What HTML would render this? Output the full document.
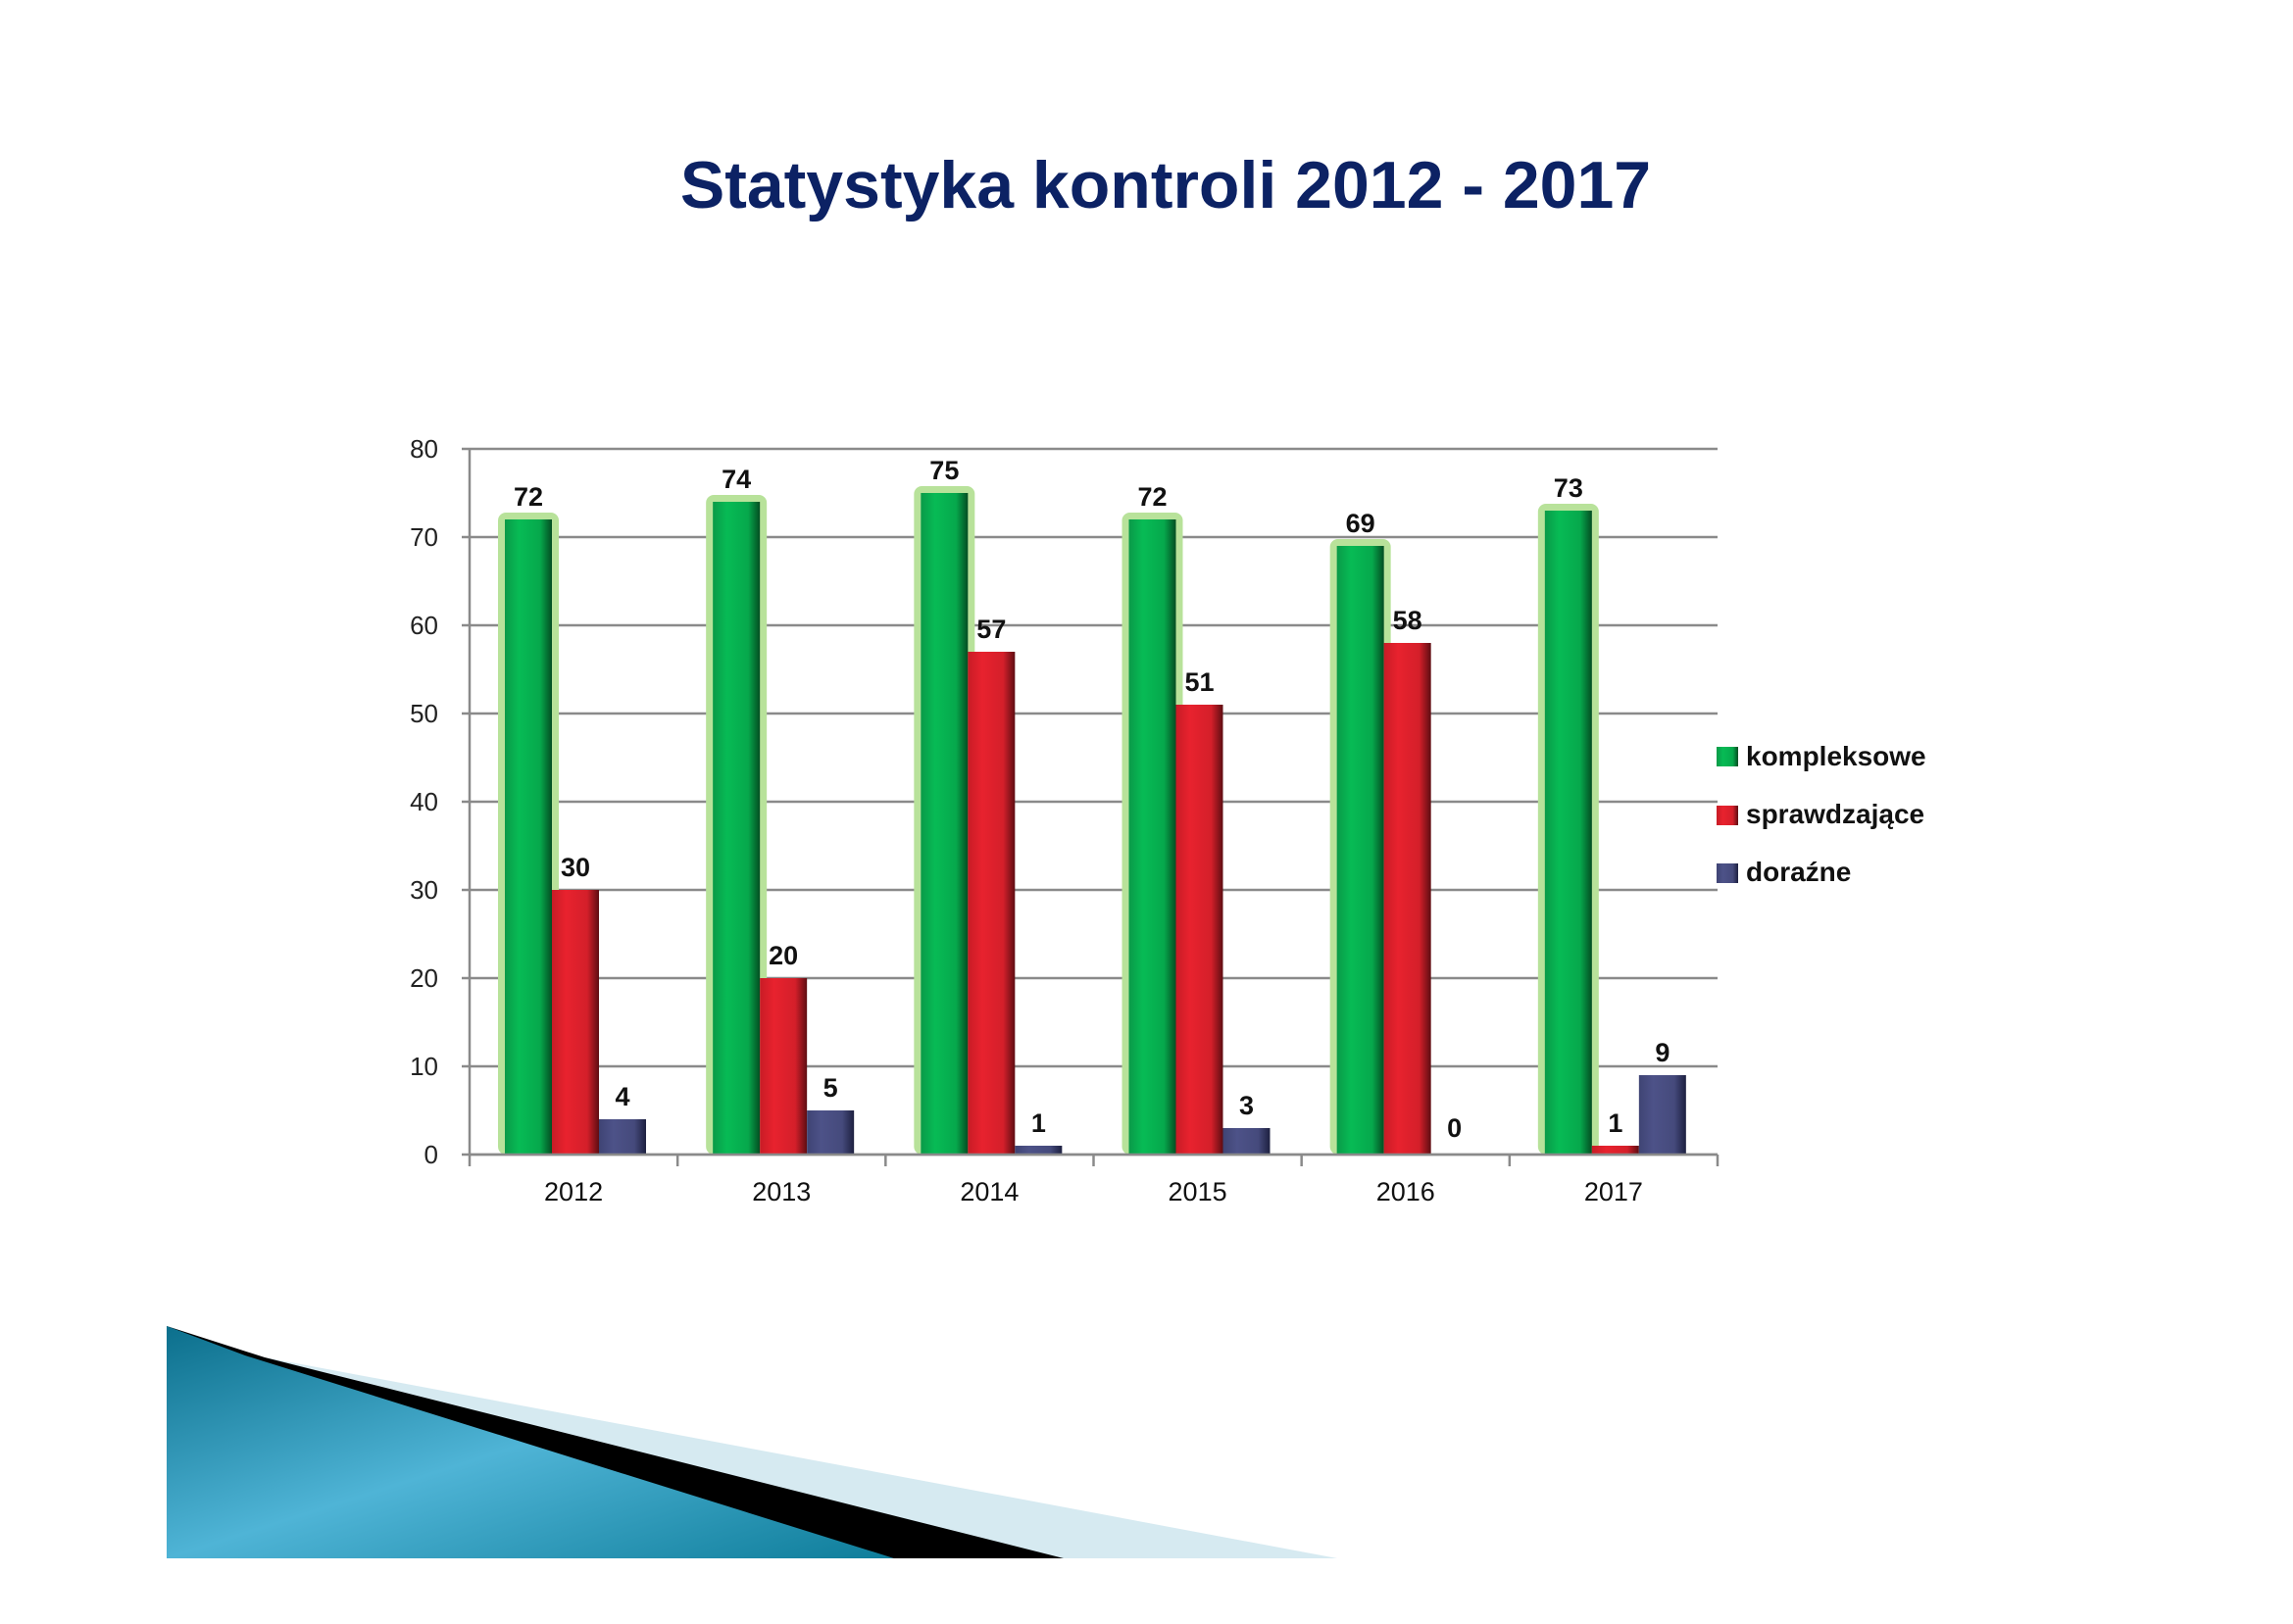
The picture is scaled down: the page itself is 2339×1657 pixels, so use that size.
<!DOCTYPE html>
<html><head><meta charset="utf-8"><style>
body{margin:0;background:#fff;}
svg text{font-family:"Liberation Sans","DejaVu Sans",sans-serif;}
</style></head><body>
<svg id="chart" width="2339" height="1652" viewBox="0 0 2339 1652" xmlns="http://www.w3.org/2000/svg">
<defs>
<linearGradient id="gG" x1="0" x2="1"><stop offset="0" stop-color="#0a9a48"/><stop offset="0.3" stop-color="#07bb55"/><stop offset="0.75" stop-color="#06a84c"/><stop offset="1" stop-color="#034d22"/></linearGradient>
<linearGradient id="gR" x1="0" x2="1"><stop offset="0" stop-color="#c81c26"/><stop offset="0.3" stop-color="#e8222e"/><stop offset="0.75" stop-color="#d41f2a"/><stop offset="1" stop-color="#5e0d12"/></linearGradient>
<linearGradient id="gB" x1="0" x2="1"><stop offset="0" stop-color="#3f4474"/><stop offset="0.3" stop-color="#4d5288"/><stop offset="0.75" stop-color="#454a7c"/><stop offset="1" stop-color="#1d2040"/></linearGradient>
<linearGradient id="deco" x1="0" y1="0" x2="1" y2="1"><stop offset="0" stop-color="#0b6f8c"/><stop offset="0.5" stop-color="#4fb4d6"/><stop offset="1" stop-color="#0e7d9a"/></linearGradient>
</defs>
<text x="1189" y="212" text-anchor="middle" font-size="68" font-weight="bold" fill="#0c2264">Statystyka kontroli 2012 - 2017</text>
<g id="grid"></g>
<g id="bars"></g>
<g id="axes"></g>
<g>
<rect x="1751" y="762" width="22" height="20" fill="url(#gG)"/>
<text x="1781" y="781" font-size="28" font-weight="bold" fill="#111">kompleksowe</text>
<rect x="1751" y="822" width="22" height="20" fill="url(#gR)"/>
<text x="1781" y="840" font-size="28" font-weight="bold" fill="#111">sprawdzające</text>
<rect x="1751" y="881" width="22" height="20" fill="url(#gB)"/>
<text x="1781" y="899" font-size="28" font-weight="bold" fill="#111">doraźne</text>
</g>
<g>
<polygon points="170,1353 270,1385 1364,1590 170,1590" fill="#d6eaf1"/>
<polygon points="170,1353 270,1385 1085,1590 170,1590" fill="#000"/>
<polygon points="170,1353 250,1383 912,1590 170,1590" fill="url(#deco)"/>
</g>
</svg>
<script>
const categories=["2012","2013","2014","2015","2016","2017"];
const kompleksowe=[72,74,75,72,69,73];
const sprawdzajace=[30,20,57,51,58,1];
const dorazne=[4,5,1,3,0,9];
const yTicks=[0,10,20,30,40,50,60,70,80];
const NS="http://www.w3.org/2000/svg";
const x0=479,x1=1752,y0=1178,yTop=458,yMax=80;
const cw=(x1-x0)/categories.length;
function y(v){return y0-(v/yMax)*(y0-yTop);}
function mk(t,a,p){const e=document.createElementNS(NS,t);for(const k in a)e.setAttribute(k,a[k]);p.appendChild(e);return e;}
const grid=document.getElementById('grid'),bars=document.getElementById('bars'),axes=document.getElementById('axes');
yTicks.forEach(v=>{
 const l=mk('line',{x1:x0-8,x2:x1,y1:y(v),y2:y(v),stroke:'#8a8a8a','stroke-width':2.5},grid);
 
 
 const t=mk('text',{x:x0-32,y:y(v)+9,'text-anchor':'end','font-size':26,fill:'#222'},axes);
 t.textContent=v;
 
 
});
const ax=mk('line',{x1:x0,x2:x0,y1:yTop,y2:y0+12,stroke:'#8a8a8a','stroke-width':2.5},axes);


const bw=48,off=36;
const series=[[kompleksowe,'url(#gG)','kompleksowe'],[sprawdzajace,'url(#gR)','sprawdzajace'],[dorazne,'url(#gB)','dorazne']];
categories.forEach((c,i)=>{
 const cx=x0+i*cw;
 const tk=mk('line',{x1:cx+cw,x2:cx+cw,y1:y0,y2:y0+12,stroke:'#8a8a8a','stroke-width':2.5},axes);
 
 
 const t=mk('text',{x:cx+cw/2,y:y0+47,'text-anchor':'middle','font-size':27,fill:'#111'},axes);
 t.textContent=c;
 
 
 series.forEach((s,j)=>{
  const v=s[0][i],bx=cx+off+j*bw;
  if(j===0){
   const h=mk('rect',{x:bx-7,y:y(v)-7,width:bw+14,height:y0-y(v)+7,rx:8,fill:'#b8e29a'},bars);
   
   
  }
  const r=mk('rect',{x:bx,y:y(v),width:bw,height:y0-y(v),fill:s[1]},bars);
  
  
  const lt=mk('text',{x:bx+bw/2,y:Math.min(y(v),y0-4)-14,'text-anchor':'middle','font-size':27,'font-weight':'bold',fill:'#111'},bars);
  lt.textContent=v;
  
  
 });
});
const bx=mk('line',{x1:x0,x2:x1,y1:y0,y2:y0,stroke:'#8a8a8a','stroke-width':2.5},axes);


</script>
</body></html>
